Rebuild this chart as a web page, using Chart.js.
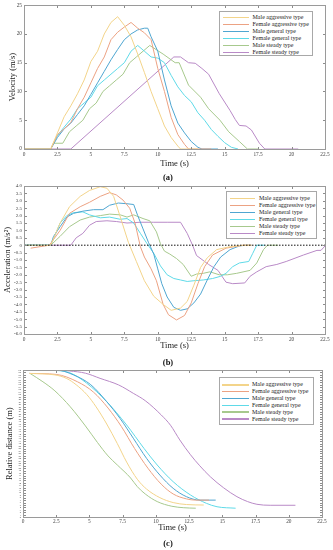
<!DOCTYPE html>
<html><head><meta charset="utf-8">
<script src="https://cdn.jsdelivr.net/npm/chart.js@4.4.0/dist/chart.umd.min.js"></script>
<style>
html,body{margin:0;padding:0;background:#fff;}
body{width:333px;height:550px;position:relative;overflow:hidden;font-family:"Liberation Serif","Times New Roman",serif;}
canvas{position:absolute;left:0;}
.cap{position:absolute;left:147px;width:42px;text-align:center;font-weight:bold;font-size:8.5px;line-height:10px;color:#111;}
.leg{position:absolute;background:#fff;border:1px solid #a8a8a8;box-sizing:border-box;}
.leg .row{position:absolute;white-space:nowrap;font-size:6px;line-height:7px;height:7px;color:#222;}
.leg .ln{position:absolute;height:1.5px;}
</style></head>
<body>
<canvas id="ca" width="333" height="180" style="top:0px"></canvas>
<canvas id="cb" width="333" height="185" style="top:180px"></canvas>
<canvas id="cc" width="333" height="185" style="top:365px"></canvas>
<div class="cap" style="top:172px">(a)</div>
<div class="cap" style="top:357px">(b)</div>
<div class="cap" style="top:538px">(c)</div>
<script>
// ---------- series ----------
const seriesNames = ["Male aggressive type","Female aggressive type","Male general type","Female general type","Male steady type","Female steady type"];
const seriesColors = ["#f3d48a","#eca283","#4fa6d1","#5fdae8","#a7c98d","#b98ac7"];
const xTicks = [0,2.5,5,7.5,10,12.5,15,17.5,20,22.5];

// ---------- (a) velocity ----------
const velT_MA = [0,2,2.5,3,3.5,4,4.5,5,5.5,6,6.5,7,7.5,8,8.5,9,9.5,10,10.5,11,11.5,11.7,13];
const velV_MA = [0,0,2.8,5.6,7.5,9.6,12,15.2,17,20,22,23,21.5,19.5,16.5,13.3,10,7,4,2,0.5,0,0];
const velT_FA = [0,2,2.5,3,3.5,4,4.5,5,5.5,6,6.5,7,7.5,8,8.5,9,9.5,10,10.5,11,11.5,12,12.3,14];
const velV_FA = [0,0,2.5,3.5,4.6,7,9,11.5,14,16,19,20.3,21.2,22,21,20.2,19,14,10,5.5,2.5,0.8,0,0];
const velT_MG = [0,2,2.5,3,3.5,4,4.5,5,5.5,6,6.5,7,7.5,8,8.5,9,9.25,9.5,10,10.5,11,11.5,12,12.5,13,13.3,14.5];
const velV_MG = [0,0,2,3.5,4.5,6,7.5,9.5,11.5,13.5,15.5,17.3,19,20,20.7,21,21,19.5,17,12,7.5,4.5,2.8,1.3,0.3,0,0];
const velT_FG = [0,2,2.5,3,3.5,4,4.5,5,5.5,6,6.5,7,7.5,8,8.5,9,9.5,10,10.5,11,11.5,12,12.5,13,13.5,14,14.5,15,15.5,16];
const velV_FG = [0,0,2.3,3.8,5.2,7,8,9,11,12,13,14,15,17,18,17,16,15.8,15,12.8,10.8,9.3,8.2,6.3,5,3.4,2.2,1.1,0.3,0];
const velT_MS = [0,2,2.2,2.9,3.4,3.9,4.4,4.9,5.4,5.9,6.4,6.9,7.4,7.9,8.4,8.9,9.4,10.4,11.3,11.6,12.3,13.2,13.8,14.65,15.3,16.1,16.7,17.5];
const velV_MS = [0,0,1,1,3,4,5,7,8,10,11,12,13,15,16,17,18,16.5,15,15,11.1,9,7,5,3,1.3,0,0];
const velT_FS = [0,3.5,11.2,11.7,12.3,12.8,13.3,13.8,14.6,15.4,15.8,16.1,16.6,17,17.6,18,20.5];
const velV_FS = [0,0,16,16,15,14.9,14,13,9.6,6.7,5.1,4.1,4,3.3,1,0,0];
const velTicks = [0,5,10,15,20,25];

// ---------- (b) acceleration ----------
const accT_MA = [0,2,2.7,3.4,4.2,4.9,5.7,6.2,6.7,7.2,7.8,8.4,9.0,9.7,10.4,11.0,11.7,12.2,12.7,13.2,13.7,14.4,15.4,16.4,17];
const accA_MA = [0,0,1.5,2.6,3.3,3.7,3.95,3.85,3.3,1.9,0.2,-1.1,-2.4,-3.45,-4.0,-4.4,-4.25,-3.8,-2.7,-1.5,-0.85,-0.3,-0.1,0,0];
const accT_FA = [0.5,1.9,2.7,3.4,4.2,4.9,5.7,6.4,6.9,7.4,7.9,8.3,8.7,9.0,9.5,9.9,10.4,10.8,11.4,12.0,12.5,13.0,13.5,14.1,15.1,16.4,17];
const accA_FA = [-0.2,0,1.0,2.15,2.6,2.9,3.3,3.55,3.4,3.05,2.5,1.5,-0.1,-0.8,-1.6,-2.4,-4.0,-4.7,-5.05,-4.75,-3.9,-2.6,-1.45,-0.66,-0.2,0,0];
const accT_MG = [0,2,2.2,2.7,3.2,3.7,4.4,5.2,5.9,6.4,7.05,7.7,8.2,8.5,8.9,9.3,9.7,10.0,10.3,10.7,11.2,11.7,12.2,12.7,13.2,13.7,14.2,14.7,15.4,16.1,16.6,17];
const accA_MG = [0,0,0.58,1.25,1.9,2.15,2.3,2.4,2.4,2.7,2.85,2.8,2.75,2.0,1.1,0.2,-0.6,-1.6,-2.6,-3.5,-4.2,-4.4,-4.3,-3.9,-3.3,-2.35,-1.45,-0.8,-0.3,-0.05,0,0];
const accT_FG = [0,2,2.7,3.2,3.7,4.4,4.9,5.7,6.4,7.2,7.7,8.2,8.7,9.2,9.7,10.2,10.7,11.2,11.7,12.2,12.7,13.4,14.1,14.7,15.1,15.6,16.1,16.8,17.1,17.4,18];
const accA_FG = [0,0,1.5,2.0,2.2,2.25,2.05,1.85,1.9,1.75,1.8,1.5,0.8,0.1,-0.55,-1.4,-2.0,-2.25,-2.35,-2.45,-2.4,-2.35,-2.25,-2.1,-1.9,-1.45,-1.2,-1.1,-0.55,0,0];
const accT_MS = [0,2,2.7,3.4,4.2,4.9,5.7,6.4,7.2,7.7,8.2,8.9,9.4,9.9,10.2,10.5,10.9,11.4,11.9,12.5,12.9,13.4,13.9,14.6,15.2,15.9,16.9,17.4,17.9,18.2,19];
const accA_MS = [0,0,0.6,1.25,1.7,1.9,2.0,2.1,2.05,1.9,2.05,1.8,1.65,0.9,0.1,-0.4,-0.6,-0.9,-1.3,-2.1,-1.95,-1.9,-1.8,-2.0,-2.0,-1.9,-1.7,-1.2,-0.3,0,0];
const accT_FS = [0,3.5,3.9,4.4,4.9,5.4,6.2,6.9,7.7,8.7,9.7,10.7,11.7,12.2,12.6,12.9,13.8,14.5,15.1,15.6,16.5,16.9,17.4,18.1,18.9,19.6,20.9,21.9,22.2,22.5];
const accA_FS = [0,0,0.5,0.8,1.35,1.6,1.65,1.6,1.5,1.55,1.55,1.55,1.55,0.8,0,-0.7,-1.3,-1.7,-2.5,-2.6,-2.55,-2.1,-1.8,-1.45,-1.3,-1.1,-0.66,-0.35,-0.35,-0.05];
const zeroLineT = [0,22.5];
const zeroLineA = [0,0];

// ---------- (c) relative distance ----------
const disT_MA = [0.5,2.4,3.3,4.0,4.8,5.5,6.3,7.1,7.8,8.6,9.3,10.3,11.3,12.3,13.6];
const disD_MA = [58.6,58,56.5,54,50,45,38,30,22.5,15.5,11.5,8,6,5.2,5.0];
const disT_FA = [0.5,2.5,4.1,5.3,6.4,7.4,8.4,9.4,10.4,11.3,12.3,13.0,14.0];
const disD_FA = [58.6,58.2,55.2,51,44.5,37,28,20,13.5,9.5,7.5,7.0,7.0];
const disT_MG = [0.5,2.5,3.8,5.1,6.3,7.3,8.3,9.3,10.3,11.3,12.3,13.3,14.5];
const disD_MG = [60,60,58,54,47.1,40.3,32.2,24,17.2,11.8,8.4,7.0,7.0];
const disT_FG = [0.5,2.5,3.6,4.8,6.3,7.8,9.1,10.1,11.3,12.6,13.8,14.6,16.0];
const disD_FG = [60,59.8,58.7,54.6,47.1,37.6,28.1,21.3,14.5,9.1,5.7,4.3,3.7];
const disT_MS = [0.5,1.5,2.4,3.56,4.7,5.6,6.4,7.1,8.1,8.6,9.2,10.1,11.2,12.1,13.0];
const disD_MS = [58.7,55.2,51.5,45,37.2,30.5,25,21.3,16,12.5,9.5,6.4,4.5,3.9,3.7];
const disT_FS = [0.5,2.5,3.5,4.7,5.8,7.2,8.3,9.2,10.4,11.1,11.8,12.6,13.3,14.1,15.1,16.1,16.9,17.6,18.6,20.5];
const disD_FS = [60,60,59.6,58.7,56.6,53.9,50.5,47.5,41.7,37.5,31.5,25.5,21,16.5,12,8.4,6.4,5.3,4.9,4.9];

// ---------- helpers ----------
const FAM = '"Liberation Serif","Times New Roman",serif';
const pts = (t, v) => t.map((x, i) => ({x: x, y: v[i]}));
const velSets = [[velT_MA,velV_MA],[velT_FA,velV_FA],[velT_MG,velV_MG],[velT_FG,velV_FG],[velT_MS,velV_MS],[velT_FS,velV_FS]];
const accSets = [[accT_MA,accA_MA],[accT_FA,accA_FA],[accT_MG,accA_MG],[accT_FG,accA_FG],[accT_MS,accA_MS],[accT_FS,accA_FS]];
const disSets = [[disT_MA,disD_MA],[disT_FA,disD_FA],[disT_MG,disD_MG],[disT_FG,disD_FG],[disT_MS,disD_MS],[disT_FS,disD_FS]];

function lineSets(sets, smooth) {
  return sets.map((s, i) => ({
    label: seriesNames[i], data: pts(s[0], s[1]), borderColor: seriesColors[i],
    borderWidth: 1, pointRadius: 0, fill: false,
    tension: 0, cubicInterpolationMode: smooth ? 'monotone' : 'default'
  }));
}

const boxPlugin = {
  id: 'matBox',
  afterDraw(chart) {
    const {ctx, chartArea: a, scales} = chart;
    const L = Math.round(a.left) + 0.5, R = Math.round(a.right) + 0.5, T = Math.round(a.top) + 0.5, B = Math.round(a.bottom) + 0.5;
    ctx.save();
    ctx.strokeStyle = '#8c8c8c'; ctx.lineWidth = 1;
    ctx.beginPath();
    scales.x.ticks.forEach(t => {
      const p = Math.round(scales.x.getPixelForValue(t.value)) + 0.5;
      ctx.moveTo(p, B); ctx.lineTo(p, B - 2.5);
      ctx.moveTo(p, T); ctx.lineTo(p, T + 2.5);
    });
    scales.y.ticks.forEach(t => {
      const p = Math.round(scales.y.getPixelForValue(t.value)) + 0.5;
      ctx.moveTo(L, p); ctx.lineTo(L + 2.5, p);
      ctx.moveTo(R, p); ctx.lineTo(R - 2.5, p);
    });
    ctx.stroke();
    ctx.strokeStyle = '#9a9a9a';
    ctx.strokeRect(L, T, R - L, B - T);
    ctx.restore();
  }
};

function makeChart(id, datasets, cfg) {
  return new Chart(document.getElementById(id), {
    type: 'line',
    data: {datasets: datasets},
    plugins: [boxPlugin],
    options: {
      responsive: false, animation: false, devicePixelRatio: 1,
      layout: {padding: cfg.pad},
      plugins: {legend: {display: false}, tooltip: {enabled: false}},
      scales: {
        x: {
          type: 'linear', min: 0, max: 22.5,
          afterBuildTicks: s => { s.ticks = xTicks.map(v => ({value: v})); },
          ticks: {font: {size: 5.3, family: FAM}, color: '#444', padding: cfg.xPad, maxRotation: 0, autoSkip: false},
          grid: {display: false, drawTicks: false, tickLength: 0}, border: {display: false},
          title: {display: true, text: 'Time (s)', font: {size: 8.5, family: FAM}, color: '#222', padding: 0},
          afterFit: s => { s.height = cfg.xH; }
        },
        y: {
          type: 'linear', min: cfg.yMin, max: cfg.yMax,
          afterBuildTicks: s => { s.ticks = cfg.yTicks.map(v => ({value: v})); },
          ticks: {font: {size: cfg.yFont, family: FAM}, color: '#444', padding: 2, autoSkip: false},
          grid: {display: false, drawTicks: false, tickLength: 0}, border: {display: false},
          title: {display: true, text: cfg.yTitle, font: {size: 8.5, family: FAM}, color: '#222', padding: {top: cfg.yTitlePad, bottom: 0}},
          afterFit: s => { s.width = cfg.yW; }
        }
      }
    }
  });
}

const accTicks = []; for (let v = -6; v <= 4.001; v += 0.5) accTicks.push(Math.round(v * 10) / 10);
const disTicks = []; for (let v = 0; v <= 60; v++) disTicks.push(v);

makeChart('ca', lineSets(velSets, false), {
  pad: {left: 0, right: 8, top: 4, bottom: 11.5}, xH: 19.5, xPad: 2,
  yMin: 0, yMax: 25, yTicks: velTicks, yFont: 5.3, yTitle: 'Velocity (m/s)', yTitlePad: 8, yW: 24
});

const accDs = lineSets(accSets, false);
accDs.push({label: 'zero', data: pts(zeroLineT, zeroLineA), borderColor: '#111', borderWidth: 1, borderDash: [1.5, 1.5], pointRadius: 0, order: -1});
makeChart('cb', accDs, {
  pad: {left: 0, right: 8, top: 6, bottom: 14}, xH: 17, xPad: 2,
  yMin: -6, yMax: 4, yTicks: accTicks, yFont: 5, yTitle: 'Acceleration (m/s\u00B2)', yTitlePad: 2.5, yW: 24
});

makeChart('cc', lineSets(disSets, true), {
  pad: {left: 0, right: 11, top: 5, bottom: 17}, xH: 15.7, xPad: 1,
  yMin: 0, yMax: 60, yTicks: disTicks, yFont: 2.6, yTitle: 'Relative distance (m)', yTitlePad: 5, yW: 23
});

// ---------- legends (HTML, boxed inside plot) ----------
function legend(box, rowTop, rowGap, lnL, lnR, txtL) {
  const d = document.createElement('div');
  d.className = 'leg';
  Object.assign(d.style, {left: box[0] + 'px', top: box[1] + 'px', width: box[2] + 'px', height: box[3] + 'px'});
  seriesNames.forEach((n, i) => {
    const cy = rowTop + i * rowGap;
    const ln = document.createElement('div');
    ln.className = 'ln';
    Object.assign(ln.style, {left: lnL + 'px', width: (lnR - lnL) + 'px', top: (cy - 0.75) + 'px', background: seriesColors[i]});
    const r = document.createElement('div');
    r.className = 'row';
    Object.assign(r.style, {left: txtL + 'px', top: (cy - 3.5) + 'px'});
    r.textContent = n;
    d.appendChild(ln); d.appendChild(r);
  });
  document.body.appendChild(d);
}
legend([219, 11, 94, 45], 5.7, 7, 2.7, 29, 32.5);
legend([225.5, 190.5, 91, 48], 7, 7, 3.3, 28.3, 32.5);
legend([219, 376.5, 94.5, 48], 7.3, 6.85, 2, 29.3, 32);
</script>
</body></html>
